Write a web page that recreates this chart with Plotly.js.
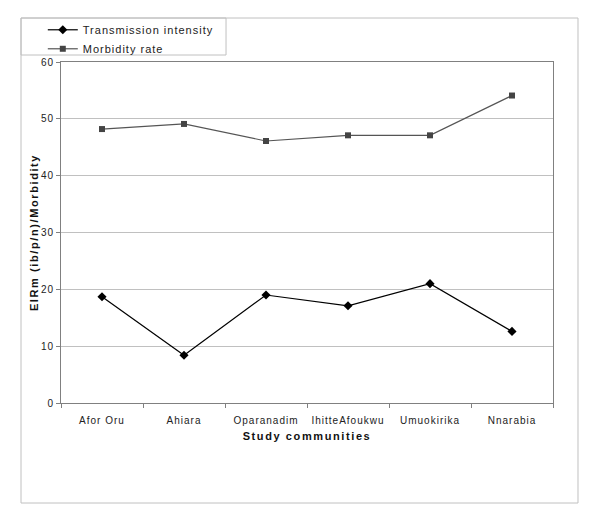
<!DOCTYPE html>
<html>
<head>
<meta charset="utf-8">
<script src="https://cdn.plot.ly/plotly-3.0.1.min.js"></script>
<style>
  body { margin: 0; background: #fff; }
  #chart { width: 600px; height: 527px; }
  #chart text { letter-spacing: 1px; }
  #chart .g-ytitle text, #chart .g-xtitle text { letter-spacing: 1.6px; }
</style>
</head>
<body>
<div id="chart"></div>
<script>
// study communities and the two series
var communities = ["Afor Oru", "Ahiara", "Oparanadim", "IhitteAfoukwu", "Umuokirika", "Nnarabia"];
var transmission = [18.7, 8.4, 19.0, 17.1, 21.0, 12.6];
var morbidity = [48.2, 49.1, 46.1, 47.1, 47.1, 54.1];
var yTicks = [0, 10, 20, 30, 40, 50, 60];

var trace1 = {
    type: "scatter",
    mode: "lines+markers",
    name: "Transmission intensity",
    x: communities,
    y: transmission,
    line: {color: "#000000", width: 1.2},
    marker: {symbol: "diamond", size: 7, color: "#000000"}
};

var trace2 = {
    type: "scatter",
    mode: "lines+markers",
    name: "Morbidity rate",
    x: communities,
    y: morbidity,
    line: {color: "#555555", width: 1.2},
    marker: {symbol: "square", size: 6, color: "#444444"}
};

var data = [trace1, trace2];

var layout = {
    width: 600,
    height: 527,
    margin: {l: 61, r: 47, t: 62, b: 124},
    paper_bgcolor: "#ffffff",
    plot_bgcolor: "#ffffff",
    font: {family: "Liberation Sans, Arial, sans-serif", size: 10, color: "#222222"},
    showlegend: true,
    legend: {
        x: -0.037,
        y: 1.137,
        xanchor: "left",
        yanchor: "top",
        bgcolor: "rgba(0,0,0,0)",
        borderwidth: 0,
        itemwidth: 30,
        font: {size: 11, color: "#222222"},
        tracegroupgap: 0
    },
    xaxis: {
        type: "category",
        range: [-0.5, 5.5],
        showgrid: false,
        showline: true,
        linecolor: "#808080",
        linewidth: 1,
        mirror: true,
        ticks: "outside",
        tickson: "boundaries",
        ticklen: 4,
        tickcolor: "#808080",
        ticklabelstandoff: 8,
        tickfont: {size: 10, color: "#222222"},
        title: {text: "<b>Study communities</b>", font: {size: 11, color: "#111111"}, standoff: 7},
        automargin: false
    },
    yaxis: {
        range: [0, 60],
        tickvals: yTicks,
        showgrid: true,
        gridcolor: "#c0c0c0",
        gridwidth: 1,
        zeroline: false,
        showline: true,
        linecolor: "#808080",
        linewidth: 1,
        mirror: true,
        ticks: "outside",
        ticklen: 4,
        tickcolor: "#808080",
        tickfont: {size: 10, color: "#222222"},
        title: {text: "<b>EIRm (ib/p/n)/Morbidity</b>", font: {size: 11, color: "#111111"}, standoff: 2},
        automargin: false
    },
    shapes: [
        // outer chart frame
        {type: "rect", xref: "paper", yref: "paper", x0: -0.0813, x1: 1.0508, y0: -0.2933, y1: 1.129,
         line: {color: "#c0c0c0", width: 1}, layer: "below"},
        // legend box
        {type: "rect", xref: "paper", yref: "paper", x0: -0.0813, x1: 0.3354, y0: 1.0205, y1: 1.129,
         line: {color: "#c0c0c0", width: 1}, layer: "below"}
    ]
};

Plotly.newPlot("chart", data, layout, {displayModeBar: false}).then(function (gd) {
    // letter spacing widens the legend text past the box plotly measured, so drop its clip
    gd.querySelectorAll(".legend .scrollbox, .legend").forEach(function (el) {
        el.removeAttribute("clip-path");
    });
});
</script>
</body>
</html>
